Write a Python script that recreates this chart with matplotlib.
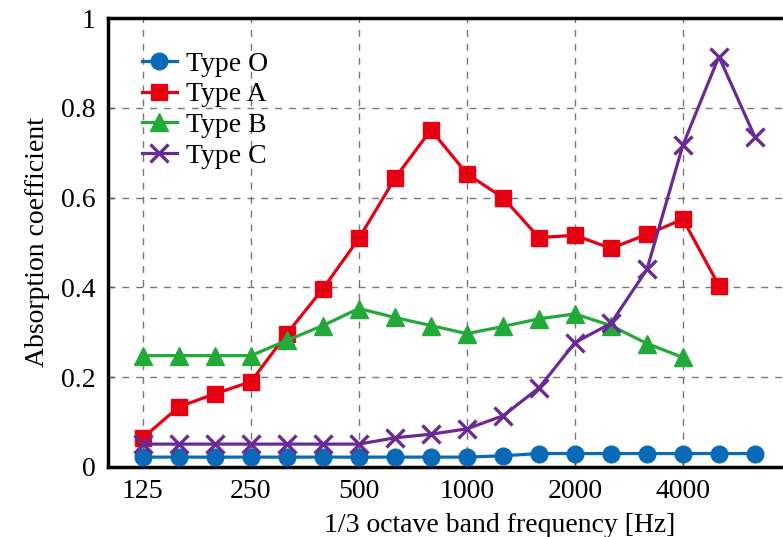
import matplotlib.pyplot as plt
import numpy as np

# 1/3 octave band centre frequencies [Hz]
bands = [125, 160, 200, 250, 315, 400, 500, 630, 800, 1000,
         1250, 1600, 2000, 2500, 3150, 4000, 5000, 6300]
tick_bands = [125, 250, 500, 1000, 2000, 4000]

type_o = [0.022, 0.022, 0.022, 0.022, 0.022, 0.022, 0.022, 0.022, 0.022, 0.022,
          0.025, 0.030, 0.030, 0.030, 0.030, 0.030, 0.030, 0.030]
type_a = [0.065, 0.134, 0.163, 0.190, 0.297, 0.397, 0.509, 0.643, 0.751, 0.653,
          0.600, 0.511, 0.516, 0.487, 0.518, 0.552, 0.404]
type_b = [0.248, 0.248, 0.248, 0.248, 0.282, 0.315, 0.353, 0.333, 0.315, 0.297,
          0.313, 0.330, 0.341, 0.315, 0.275, 0.244]
type_c = [0.051, 0.051, 0.051, 0.051, 0.051, 0.051, 0.051, 0.065, 0.073, 0.085,
          0.114, 0.176, 0.277, 0.320, 0.440, 0.717, 0.914, 0.735]

plt.rcParams["font.family"] = ["Liberation Serif", "DejaVu Serif"]
plt.rcParams["font.size"] = 20

fig = plt.figure(figsize=(7.83, 5.37), dpi=100)
ax = fig.add_axes([108 / 783, (537 - 467) / 537, 1.0, (467 - 18) / 537])

x = np.arange(len(bands))
ax.plot(x[:len(type_o)], type_o, color="#0a6ab8", marker="o", markersize=12,
        linewidth=2.3, label="Type O", zorder=3)
ax.plot(x[:len(type_a)], type_a, color="#e60012", marker="s", markersize=12,
        linewidth=2.3, label="Type A", zorder=4)
ax.plot(x[:len(type_b)], type_b, color="#22aa38", marker="^", markersize=13,
        linewidth=2.3, label="Type B", zorder=4)
ax.plot(x[:len(type_c)], type_c, color="#6a2a96", marker="x", markersize=13,
        markeredgewidth=2.4, linewidth=2.3, label="Type C", zorder=5)

ax.set_xlim(-0.97, -0.97 + 783 / 36)
ax.set_ylim(0, 1)
ax.set_xticks([bands.index(b) for b in tick_bands])
ax.set_xticklabels([str(b) for b in tick_bands])
ax.set_yticks([0, 0.2, 0.4, 0.6, 0.8, 1.0])
ax.set_yticklabels(["0", "0.2", "0.4", "0.6", "0.8", "1"])
ax.tick_params(direction="in", length=4, width=1, color="#555555", pad=9)

ax.grid(True, color="#777777", linestyle=(0, (5, 5)), linewidth=1)
ax.set_axisbelow(True)

for side in ["left", "bottom", "top"]:
    ax.spines[side].set_linewidth(2.5)
ax.spines["right"].set_visible(False)

ax.set_xlabel("1/3 octave band frequency [Hz]", labelpad=6)
ax.set_ylabel("Absorption coefficient", labelpad=8)

ax.legend(loc="upper left", bbox_to_anchor=(0.043, 0.926), frameon=False,
          handlelength=1.27, handletextpad=0.33, labelspacing=0.19,
          borderaxespad=0.0, borderpad=0.0)

fig.savefig("out.png", dpi=100)
